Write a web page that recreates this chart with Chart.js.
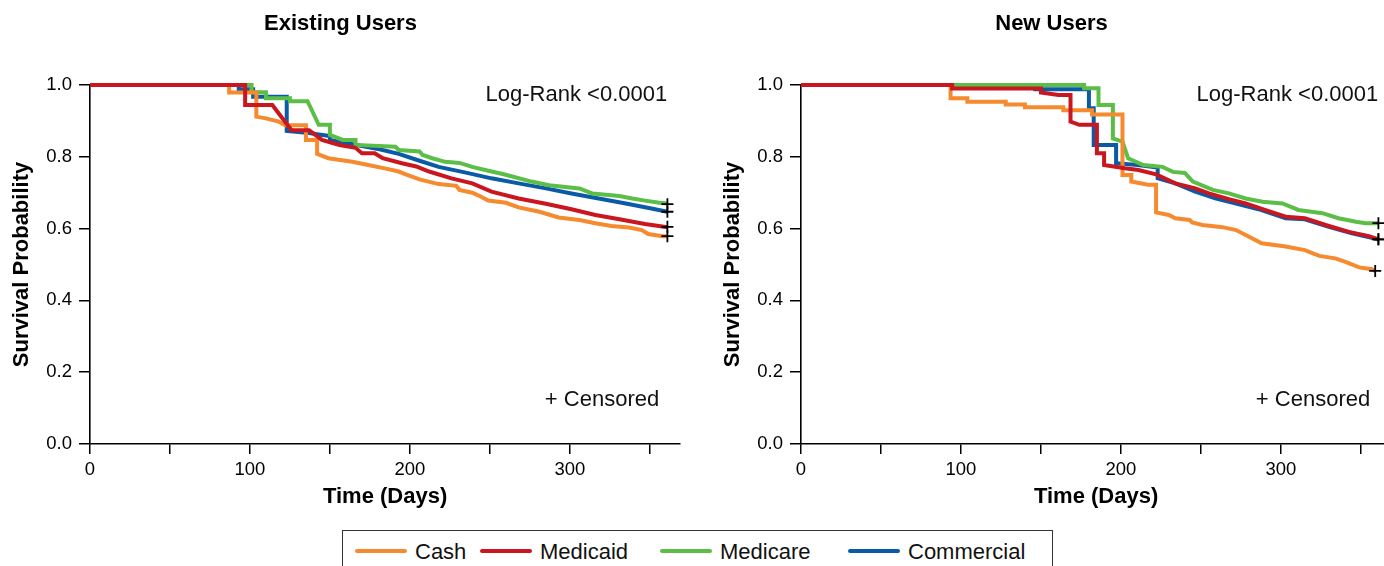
<!DOCTYPE html>
<html>
<head>
<meta charset="utf-8">
<script src="https://cdn.jsdelivr.net/npm/chart.js@4.4.0/dist/chart.umd.min.js"></script>
<style>
  html, body { margin: 0; padding: 0; background: #fff; overflow: hidden; width: 1384px; height: 566px; }
  #wrap { position: relative; width: 1384px; height: 566px; overflow: hidden; }
  canvas { position: absolute; top: 0; }
  #c1 { left: 0; }
  #c2 { left: 711px; }
  #legend { position: absolute; left: 342px; top: 530px; width: 711px; height: 44px; border: 1px solid #333; box-sizing: border-box;
    font-family: "Liberation Sans", Arial, Helvetica, sans-serif; font-size: 22px; color: #111; }
  .item { position: absolute; top: 8px; height: 26px; line-height: 26px; white-space: nowrap; }
  .swatch { display: inline-block; width: 52px; height: 4px; border-radius: 2px; vertical-align: middle; margin-right: 8px; position: relative; top: -2px; }
</style>
</head>
<body>
<div id="wrap">
  <canvas id="c1" width="688" height="530"></canvas>
  <canvas id="c2" width="688" height="530"></canvas>
  <div id="legend"></div>
</div>
<script>
// ---------- Data ----------
const seriesNames = ["Cash", "Medicaid", "Medicare", "Commercial"];
const seriesColors = ["#F68A2E", "#C9161F", "#5BBE47", "#0B5AA8"];
const xTicks = [0, 50, 100, 150, 200, 250, 300, 350];
const yTicks = [0.0, 0.2, 0.4, 0.6, 0.8, 1.0];
const panelTitles = ["Existing Users", "New Users"];
const annotationLogRank = "Log-Rank <0.0001";
const annotationCensored = "+ Censored";

// Existing users
const existingCashDays = [0, 87, 87, 104, 104, 110, 118, 122, 135, 135, 142, 142, 149, 164, 174, 185, 193, 197, 206, 218, 229, 231, 239, 243, 249, 260, 268, 281, 293, 306, 316, 326, 337, 345, 349, 358, 361];
const existingCashSurv = [1, 1, 0.979, 0.979, 0.912, 0.907, 0.898, 0.888, 0.888, 0.847, 0.847, 0.808, 0.796, 0.786, 0.777, 0.767, 0.759, 0.752, 0.737, 0.724, 0.719, 0.708, 0.700, 0.692, 0.678, 0.672, 0.659, 0.647, 0.631, 0.624, 0.615, 0.607, 0.603, 0.596, 0.585, 0.579, 0.579];
const existingMedicaidDays = [0, 97, 97, 114, 126, 137, 145, 156, 166, 170, 178, 183, 195, 204, 212, 226, 239, 251, 268, 285, 301, 316, 331, 347, 361];
const existingMedicaidSurv = [1, 1, 0.944, 0.944, 0.874, 0.874, 0.847, 0.833, 0.825, 0.810, 0.810, 0.796, 0.782, 0.773, 0.759, 0.740, 0.726, 0.703, 0.684, 0.669, 0.654, 0.638, 0.626, 0.613, 0.604];
const existingMedicareDays = [0, 101, 101, 110, 110, 125, 125, 136, 143, 150, 150, 158, 166, 166, 191, 193, 206, 208, 214, 222, 231, 239, 249, 258, 264, 276, 287, 306, 314, 331, 339, 347, 356, 361];
const existingMedicareSurv = [1, 1, 0.980, 0.980, 0.963, 0.963, 0.955, 0.955, 0.889, 0.889, 0.861, 0.847, 0.847, 0.833, 0.828, 0.819, 0.815, 0.805, 0.796, 0.786, 0.783, 0.772, 0.761, 0.752, 0.745, 0.731, 0.721, 0.712, 0.698, 0.691, 0.684, 0.678, 0.672, 0.670];
const existingCommercialDays = [0, 93, 93, 102, 102, 123, 123, 137, 143, 150, 150, 170, 181, 193, 206, 218, 235, 251, 268, 285, 301, 318, 335, 351, 361];
const existingCommercialSurv = [1, 1, 0.988, 0.988, 0.967, 0.967, 0.872, 0.866, 0.862, 0.858, 0.847, 0.830, 0.821, 0.808, 0.789, 0.772, 0.756, 0.740, 0.726, 0.712, 0.698, 0.684, 0.670, 0.656, 0.647];
const existingCensoredDays = [361, 361, 361, 361];
const existingCensoredSurv = [0.579, 0.605, 0.668, 0.647];

// New users
const newCashDays = [0, 93.5, 93.5, 104, 104, 128, 128, 140, 140, 164, 164, 182, 182, 201, 201, 206.5, 206.5, 217, 222, 222, 230, 234, 243, 244.5, 251, 263.5, 272, 278, 288, 303, 315, 324, 334, 340, 349, 357, 359];
const newCashSurv = [1, 1, 0.963, 0.963, 0.953, 0.953, 0.946, 0.946, 0.938, 0.938, 0.930, 0.930, 0.918, 0.918, 0.749, 0.749, 0.731, 0.722, 0.722, 0.645, 0.638, 0.629, 0.624, 0.617, 0.610, 0.604, 0.596, 0.582, 0.559, 0.550, 0.540, 0.524, 0.517, 0.508, 0.492, 0.487, 0.482];
const newMedicaidDays = [0, 94.5, 94.5, 150, 150, 161, 168.5, 168.5, 174, 185, 185, 189.5, 189.5, 202.5, 211, 222, 234, 246.5, 255, 267.5, 278, 290, 303, 315, 328, 342.5, 355, 361];
const newMedicaidSurv = [1, 1, 0.990, 0.990, 0.979, 0.972, 0.972, 0.898, 0.889, 0.889, 0.810, 0.810, 0.777, 0.768, 0.763, 0.751, 0.726, 0.712, 0.698, 0.682, 0.670, 0.652, 0.633, 0.629, 0.610, 0.591, 0.579, 0.570];
const newMedicareDays = [0, 177, 177, 186, 186, 195, 195, 201, 204.5, 214, 226, 232.5, 240, 245, 257.5, 267.5, 278, 288.5, 301, 311, 326, 336, 347, 353, 361];
const newMedicareSurv = [1, 1, 0.991, 0.991, 0.944, 0.944, 0.851, 0.842, 0.796, 0.777, 0.772, 0.758, 0.755, 0.731, 0.708, 0.698, 0.684, 0.675, 0.670, 0.652, 0.643, 0.629, 0.619, 0.615, 0.615];
const newCommercialDays = [0, 146.5, 146.5, 180, 180, 183, 183, 197, 197, 210.5, 223, 223, 234, 246.5, 259, 272, 286, 303, 315, 330, 344.5, 361];
const newCommercialSurv = [1, 1, 0.988, 0.988, 0.935, 0.935, 0.833, 0.833, 0.782, 0.777, 0.770, 0.740, 0.726, 0.703, 0.684, 0.670, 0.654, 0.629, 0.626, 0.605, 0.587, 0.570];
const newCensoredDays = [359, 361, 361, 361];
const newCensoredSurv = [0.482, 0.570, 0.615, 0.570];

// ---------- Helpers ----------
const FONT = '"Liberation Sans", Arial, Helvetica, sans-serif';
function pts(xs, ys) { return xs.map((x, i) => ({ x: x, y: ys[i] })); }
const drawOrder = [1, 0, 2, 3];

function buildDatasets(daysList, survList, cDays, cSurv) {
  const ds = daysList.map((d, i) => ({
    label: seriesNames[i],
    data: pts(d, survList[i]),
    borderColor: seriesColors[i],
    backgroundColor: seriesColors[i],
    borderWidth: 4,
    pointRadius: 0,
    fill: false,
    tension: 0,
    clip: false,
    borderJoinStyle: 'miter',
    order: drawOrder[i]
  }));
  ds.push({
    label: 'Censored',
    data: pts(cDays, cSurv),
    showLine: false,
    pointStyle: 'cross',
    pointRadius: 6,
    pointBorderColor: '#000',
    pointBorderWidth: 1.8,
    clip: false,
    order: -1
  });
  return ds;
}

const annotPlugin = {
  id: 'annot',
  afterDraw(chart) {
    const { ctx, chartArea } = chart;
    const ys = chart.scales.y;
    ctx.save();
    ctx.fillStyle = '#111';
    ctx.font = '22px ' + FONT;
    ctx.textAlign = 'right';
    ctx.textBaseline = 'middle';
    ctx.fillText(annotationLogRank, chartArea.right - 13, ys.getPixelForValue(0.972));
    ctx.fillText(annotationCensored, chartArea.right - 21, ys.getPixelForValue(0.124));
    ctx.restore();
  }
};

function makeChart(id, title, datasets) {
  return new Chart(document.getElementById(id), {
    type: 'line',
    data: { datasets: datasets },
    plugins: [annotPlugin],
    options: {
      responsive: false,
      animation: false,
      devicePixelRatio: 1,
      layout: { padding: { left: 0, right: 7, top: 0, bottom: 0 } },
      plugins: {
        legend: { display: false },
        tooltip: { enabled: false },
        title: {
          display: true, text: title, color: '#000',
          font: { family: FONT, size: 22, weight: 'bold' },
          padding: { top: 10.8, bottom: 47.8 }
        }
      },
      scales: {
        x: {
          type: 'linear', min: 0, max: 369,
          afterBuildTicks(scale) { scale.ticks = xTicks.map(v => ({ value: v })); },
          afterFit(scale) { scale.height = 86; },
          ticks: {
            autoSkip: false, maxRotation: 0, includeBounds: false, padding: 5,
            color: '#000', font: { family: FONT, size: 18.5 },
            callback: v => (v % 100 === 0 ? String(v) : '')
          },
          grid: { drawOnChartArea: false, drawTicks: true, tickLength: 10, color: '#000', lineWidth: 1.5 },
          border: { display: true, color: '#000', width: 1.6 },
          title: {
            display: true, text: 'Time (Days)', color: '#000',
            font: { family: FONT, size: 22, weight: 'bold' },
            padding: { top: 0, bottom: 19.8 }
          }
        },
        y: {
          type: 'linear', min: 0, max: 1,
          afterBuildTicks(scale) { scale.ticks = yTicks.map(v => ({ value: v })); },
          afterFit(scale) { scale.width = 90; },
          ticks: {
            padding: 7, color: '#000', font: { family: FONT, size: 18.5 },
            callback: v => Number(v).toFixed(1)
          },
          grid: { drawOnChartArea: false, drawTicks: true, tickLength: 11, color: '#000', lineWidth: 1.5 },
          border: { display: true, color: '#000', width: 1.6 },
          title: {
            display: true, text: 'Survival Probability', color: '#000',
            font: { family: FONT, size: 22, weight: 'bold' },
            padding: { top: 8.8, bottom: 0 }
          }
        }
      }
    }
  });
}

makeChart('c1', panelTitles[0], buildDatasets(
  [existingCashDays, existingMedicaidDays, existingMedicareDays, existingCommercialDays],
  [existingCashSurv, existingMedicaidSurv, existingMedicareSurv, existingCommercialSurv],
  existingCensoredDays, existingCensoredSurv));

makeChart('c2', panelTitles[1], buildDatasets(
  [newCashDays, newMedicaidDays, newMedicareDays, newCommercialDays],
  [newCashSurv, newMedicaidSurv, newMedicareSurv, newCommercialSurv],
  newCensoredDays, newCensoredSurv));

// ---------- HTML legend ----------
const legendLefts = [12, 137, 317, 505];
const legendEl = document.getElementById('legend');
seriesNames.forEach((name, i) => {
  const item = document.createElement('div');
  item.className = 'item';
  item.style.left = legendLefts[i] + 'px';
  const sw = document.createElement('span');
  sw.className = 'swatch';
  sw.style.background = seriesColors[i];
  const tx = document.createElement('span');
  tx.textContent = name;
  item.appendChild(sw);
  item.appendChild(tx);
  legendEl.appendChild(item);
});
</script>
</body>
</html>
